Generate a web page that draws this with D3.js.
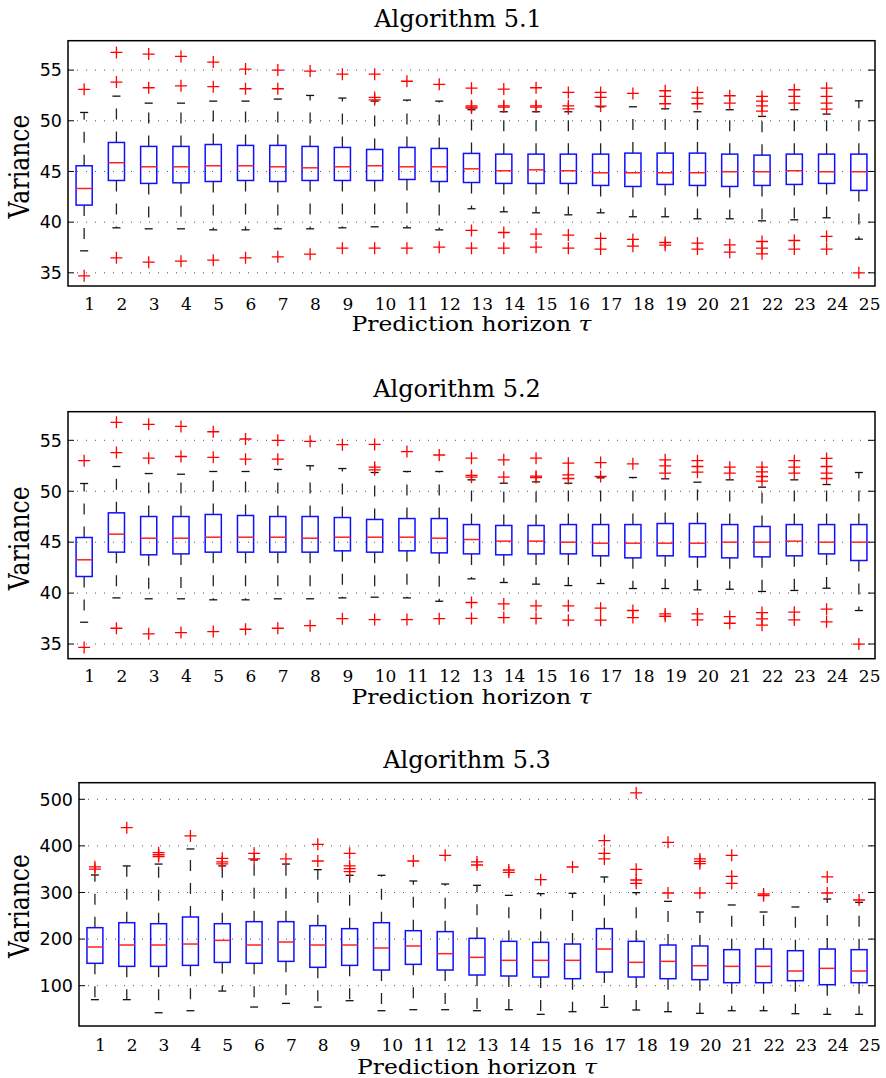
<!DOCTYPE html>
<html>
<head>
<meta charset="utf-8">
<script src="https://cdn.jsdelivr.net/npm/d3@7"></script>
<style>
  body { margin: 0; background: #fff; }
  svg { display: block; }
</style>
</head>
<body>
<div id="chart"></div>
<script>
// prediction horizons (x categories)
const horizons = [1,2,3,4,5,6,7,8,9,10,11,12,13,14,15,16,17,18,19,20,21,22,23,24,25];

// Algorithm 5.1
const a1Q1  = [41.68,44.11,43.82,43.88,44.01,44.11,44.01,44.11,44.11,44.11,44.21,44.01,43.91,43.82,43.82,43.82,43.62,43.52,43.72,43.62,43.52,43.62,43.72,43.82,43.13];
const a1Med = [43.32,45.86,45.46,45.46,45.56,45.56,45.46,45.36,45.46,45.56,45.46,45.46,45.26,45.07,45.16,45.07,44.87,44.87,44.87,44.87,44.97,44.97,45.07,44.97,44.97];
const a1Q3  = [45.56,47.86,47.47,47.47,47.66,47.57,47.57,47.47,47.37,47.17,47.37,47.27,46.78,46.71,46.71,46.71,46.71,46.81,46.81,46.81,46.71,46.61,46.71,46.71,46.71];
const a1Lo  = [37.17,39.44,39.34,39.34,39.24,39.24,39.34,39.34,39.44,39.54,39.44,39.24,41.32,41.02,40.92,40.72,40.92,40.53,40.53,40.33,40.33,40.13,40.23,40.43,38.32];
const a1Hi  = [50.82,52.43,51.74,51.74,51.94,51.94,52.14,52.5,52.24,51.94,52.04,51.94,51.09,50.89,50.89,50.89,51.38,51.38,51.18,50.89,51.09,50.43,51.09,50.66,51.97];
const a1Out = [
  [53.1,34.7], [56.74,53.82,36.48], [56.58,53.26,36.05], [56.35,53.45,36.15], [55.79,53.36,36.25],
  [55.1,53.16,36.48], [55.0,53.16,36.58], [54.9,36.84], [54.6,37.43], [54.6,52.3,52.07,37.43],
  [53.9,37.43], [53.6,37.53], [53.22,51.48,51.35,51.25,39.18,37.43], [53.13,51.48,51.35,38.98,37.43],
  [53.26,51.48,51.35,38.82,37.53], [52.8,51.48,51.18,38.72,37.43], [52.8,52.3,51.45,38.39,37.34],
  [52.7,38.29,37.63], [52.96,52.4,51.68,37.99,37.73], [52.8,52.24,51.68,37.93,37.34],
  [52.47,51.74,37.76,37.04], [52.4,51.94,51.48,50.95,38.09,37.43,36.87], [53.06,52.4,51.74,38.19,37.34],
  [53.22,52.4,51.74,51.15,38.59,37.34], [35.0]
];

// Algorithm 5.2
const a2Q1  = [41.63,44.02,43.76,43.85,44.02,44.02,44.02,44.02,44.15,44.02,44.15,43.95,43.85,43.76,43.85,43.85,43.66,43.46,43.66,43.56,43.46,43.56,43.66,43.85,43.2];
const a2Med = [43.27,45.79,45.39,45.39,45.49,45.49,45.49,45.39,45.49,45.49,45.49,45.39,45.26,45.1,45.1,45.0,44.9,44.9,44.9,44.9,45.0,45.0,45.1,45.0,45.0];
const a2Q3  = [45.46,47.88,47.52,47.52,47.72,47.62,47.52,47.52,47.42,47.23,47.32,47.32,46.73,46.64,46.64,46.73,46.73,46.73,46.83,46.83,46.73,46.54,46.73,46.73,46.73];
const a2Lo  = [37.14,39.53,39.44,39.44,39.34,39.34,39.44,39.44,39.53,39.6,39.53,39.2,41.4,41.04,40.88,40.74,40.94,40.45,40.45,40.32,40.38,40.16,40.26,40.48,38.29];
const a2Hi  = [50.76,52.43,51.74,51.67,51.94,51.94,52.14,52.5,52.23,51.84,51.94,51.94,51.12,50.79,50.92,50.79,51.32,51.35,51.22,50.89,51.12,50.4,51.12,50.66,51.84];
const a2Out = [
  [53.0,34.67], [56.77,53.8,36.55], [56.57,53.25,36.0], [56.36,53.41,36.12], [55.84,53.33,36.22],
  [55.13,53.15,36.45], [55.0,53.15,36.55], [54.9,36.8], [54.57,37.49], [54.6,52.36,52.1,37.4],
  [53.9,37.4], [53.56,37.49], [53.25,51.55,51.38,39.08,37.51], [53.09,51.38,38.94,37.6],
  [53.25,51.48,51.35,38.75,37.51], [52.76,51.61,51.25,38.75,37.34], [52.82,51.45,38.52,37.34],
  [52.69,38.29,37.6], [53.09,52.5,51.78,37.96,37.73], [53.0,52.43,51.87,37.96,37.37],
  [52.36,51.78,37.7,37.04], [52.36,51.9,51.45,51.0,38.09,37.47,36.85], [53.0,52.36,51.78,38.13,37.37],
  [53.22,52.43,51.78,51.25,38.42,37.18], [35.0]
];

// Algorithm 5.3
const a3Q1  = [148,141.5,141.5,143.6,150,148,152.2,139.4,143.6,133.6,145.8,133.6,122.9,120.8,118.6,115,129.3,118.6,115,112.9,106.4,106.4,110.7,102.1,106.4];
const a3Med = [183,187.3,187.3,189.4,197.3,187.3,193.7,187.3,187.3,180.9,185.2,168.7,160.8,154.4,154.4,154.4,178.7,150.1,152.2,142.9,141.5,141.5,131.5,137.2,131.5];
const a3Q3  = [224.5,235.2,233,247.4,233,237.4,237.4,228.8,222.4,235.2,218,216,201.6,195.2,193,189.4,222.4,195.2,187.3,185.2,177.3,178.7,175.1,178.7,177.3];
const a3Lo  = [70,70,42,46.3,88.5,54.2,62,54.2,67.8,46.3,48.5,48.5,46.3,48.5,38.5,44.2,53.5,47.8,44.2,40.6,46.3,46.3,39.9,38.5,38.5];
const a3Hi  = [337.6,357,361,393.4,357,369.8,361,349,336.9,336.9,324.7,318.2,315.4,293.9,297.5,298.2,333.3,299.6,281,258.1,273.2,258.1,268.9,286,278.9];
const a3Out = [
  [355,350], [439], [385.5,381,377], [421.3], [373.3,365.5,361.2], [384,372], [372], [403.4,367.6],
  [384,357,351.2,344.7], [], [367.6], [379.8], [365.5,359], [348.3,343.3], [327.5], [354.7],
  [411.3,384.1,372], [513.6,349.7,326.8,319.7], [407.7,298.9], [372,366.9,361.9,298.9],
  [379.8,334.7,319.7], [296.8,293.2], [], [333.3,298.9], [283.9]
];

const ticks12 = [35, 40, 45, 50, 55];
const ticks3 = [100, 200, 300, 400, 500];

const serif = "'DejaVu Serif', serif";
const sans = "'DejaVu Sans', sans-serif";

const svg = d3.select("#chart").append("svg")
  .attr("width", 886)
  .attr("height", 1078);

function crtajPanel(p) {
  const x = d3.scaleLinear().domain([0.5, 25.5]).range([p.left, p.right]);
  const y = d3.scaleLinear().domain(p.yDomain).range([p.bottom, p.top]);
  const g = svg.append("g");
  const bw = x(1.25) - x(1);   // half box width
  const cw = x(1.125) - x(1);  // half cap width

  // dotted grid
  g.selectAll(".grid").data(p.ticks).enter().append("line")
    .attr("x1", p.left).attr("x2", p.right)
    .attr("y1", d => y(d)).attr("y2", d => y(d))
    .attr("stroke", "#555").attr("stroke-width", 1)
    .attr("stroke-dasharray", "1,8");

  // inward ticks on both sides
  p.ticks.forEach(t => {
    g.append("line").attr("x1", p.left).attr("x2", p.left + 6)
      .attr("y1", y(t)).attr("y2", y(t)).attr("stroke", "#000");
    g.append("line").attr("x1", p.right).attr("x2", p.right - 7)
      .attr("y1", y(t)).attr("y2", y(t)).attr("stroke", "#000");
  });

  g.selectAll(".ytl").data(p.ticks).enter().append("text")
    .attr("x", p.left - 6).attr("y", d => y(d))
    .attr("dy", "0.36em")
    .attr("text-anchor", "end")
    .style("font-family", sans).style("font-size", "17.5px")
    .text(d => d);

  const boxes = g.selectAll(".box").data(horizons).enter().append("g");

  // whiskers
  boxes.append("line")
    .attr("x1", d => x(d)).attr("x2", d => x(d))
    .attr("y1", (d, i) => y(p.q3[i])).attr("y2", (d, i) => y(p.hi[i]))
    .attr("stroke", "#222").attr("stroke-width", 1.3).attr("stroke-dasharray", "11,12");
  boxes.append("line")
    .attr("x1", d => x(d)).attr("x2", d => x(d))
    .attr("y1", (d, i) => y(p.q1[i])).attr("y2", (d, i) => y(p.lo[i]))
    .attr("stroke", "#222").attr("stroke-width", 1.3).attr("stroke-dasharray", "11,12");
  boxes.append("line")
    .attr("x1", d => x(d) - cw).attr("x2", d => x(d) + cw)
    .attr("y1", (d, i) => y(p.hi[i])).attr("y2", (d, i) => y(p.hi[i]))
    .attr("stroke", "#111").attr("stroke-width", 1.3);
  boxes.append("line")
    .attr("x1", d => x(d) - cw).attr("x2", d => x(d) + cw)
    .attr("y1", (d, i) => y(p.lo[i])).attr("y2", (d, i) => y(p.lo[i]))
    .attr("stroke", "#111").attr("stroke-width", 1.3);

  boxes.append("rect")
    .attr("x", d => x(d) - bw).attr("width", 2 * bw)
    .attr("y", (d, i) => y(p.q3[i]))
    .attr("height", (d, i) => y(p.q1[i]) - y(p.q3[i]))
    .attr("fill", "none").attr("stroke", "#1010ff").attr("stroke-width", 1.5);
  boxes.append("line")
    .attr("x1", d => x(d) - bw).attr("x2", d => x(d) + bw)
    .attr("y1", (d, i) => y(p.med[i])).attr("y2", (d, i) => y(p.med[i]))
    .attr("stroke", "#ff2020").attr("stroke-width", 1.5);

  // outliers
  boxes.each(function (d, i) {
    d3.select(this).selectAll(".out").data(p.out[i]).enter().append("path")
      .attr("d", v => `M${x(d) - 6},${y(v)}H${x(d) + 6}M${x(d)},${y(v) - 6}V${y(v) + 6}`)
      .attr("stroke", "#ff0000").attr("stroke-width", 1.3).attr("fill", "none");
  });

  // frame
  g.append("rect")
    .attr("x", p.left).attr("y", p.top)
    .attr("width", p.right - p.left).attr("height", p.bottom - p.top)
    .attr("fill", "none").attr("stroke", "#000").attr("stroke-width", 1.5);

  // x tick labels, left-aligned on the box centres as in the original
  g.selectAll(".xtl").data(horizons).enter().append("text")
    .attr("x", d => x(d)).attr("y", p.tickY)
    .style("font-family", serif).style("font-size", "17px")
    .text(d => d);

  const xl = g.append("text")
    .attr("x", (p.left + p.right) / 2).attr("y", p.xlabelY)
    .attr("text-anchor", "middle")
    .attr("textLength", 240).attr("lengthAdjust", "spacingAndGlyphs")
    .style("font-family", serif).style("font-size", "21px");
  xl.append("tspan").text("Prediction horizon ");
  xl.append("tspan").style("font-style", "italic").text("τ");

  g.append("text")
    .attr("x", p.titleX).attr("y", p.titleY)
    .attr("text-anchor", "middle")
    .style("font-family", serif).style("font-size", "24px")
    .text(p.title);

  g.append("text")
    .attr("transform", `translate(29,${p.ylabelY}) rotate(-90)`)
    .attr("text-anchor", "middle")
    .attr("textLength", 104).attr("lengthAdjust", "spacingAndGlyphs")
    .style("font-family", serif).style("font-size", "27px")
    .text("Variance");
}

crtajPanel({
  title: "Algorithm 5.1", left: 68, right: 875, top: 40.7, bottom: 286,
  yDomain: [33.7, 57.9], ticks: ticks12,
  titleX: 458, titleY: 27, tickY: 310, xlabelY: 331, ylabelY: 166.5,
  q1: a1Q1, med: a1Med, q3: a1Q3, lo: a1Lo, hi: a1Hi, out: a1Out
});
crtajPanel({
  title: "Algorithm 5.2", left: 68, right: 875, top: 411.7, bottom: 658.7,
  yDomain: [33.56, 57.81], ticks: ticks12,
  titleX: 457, titleY: 397.3, tickY: 682, xlabelY: 704, ylabelY: 538.3,
  q1: a2Q1, med: a2Med, q3: a2Q3, lo: a2Lo, hi: a2Hi, out: a2Out
});
crtajPanel({
  title: "Algorithm 5.3", left: 79, right: 875, top: 782.7, bottom: 1026,
  yDomain: [13.5, 535.6], ticks: ticks3,
  titleX: 467, titleY: 768.3, tickY: 1050.5, xlabelY: 1073.5, ylabelY: 906,
  q1: a3Q1, med: a3Med, q3: a3Q3, lo: a3Lo, hi: a3Hi, out: a3Out
});
</script>
</body>
</html>
